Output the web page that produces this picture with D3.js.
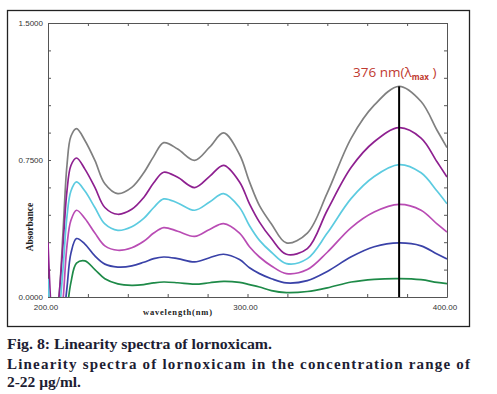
<!DOCTYPE html>
<html>
<head>
<meta charset="utf-8">
<script src="https://cdn.jsdelivr.net/npm/d3@7"></script>
<style>
  body { margin: 0; background: #fff; }
  svg { display: block; }
</style>
</head>
<body>
<div id="chart"></div>
<script>
// wavelength grid (nm) shared by all spectra
const wavelengths = [200, 203, 205.5, 207.5, 209.5, 211.5, 214.3, 218.5, 223.5, 228.5, 235, 242, 248, 253, 258, 265, 273.5, 281, 288, 296, 301, 306, 312, 319.5, 330, 340, 352, 363.5, 376, 387, 395, 400];

// absorbance, highest concentration first
const grey   = [-0.4, -0.2, 0.0, 0.35, 0.72, 0.88, 0.922, 0.857, 0.748, 0.62, 0.566, 0.60, 0.68, 0.77, 0.845, 0.81, 0.748, 0.82, 0.898, 0.78, 0.63, 0.50, 0.40, 0.296, 0.35, 0.57, 0.87, 1.05, 1.153, 1.07, 0.913, 0.818];
const purple = [0.30, -0.25, 0.0, 0.28, 0.58, 0.72, 0.761, 0.70, 0.60, 0.49, 0.453, 0.48, 0.545, 0.625, 0.683, 0.655, 0.599, 0.66, 0.721, 0.63, 0.51, 0.41, 0.32, 0.234, 0.265, 0.475, 0.71, 0.85, 0.927, 0.87, 0.74, 0.657];
const cyan   = [0.10, -0.3, -0.1, 0.15, 0.44, 0.58, 0.630, 0.58, 0.49, 0.40, 0.365, 0.385, 0.43, 0.49, 0.537, 0.515, 0.475, 0.52, 0.566, 0.49, 0.39, 0.31, 0.245, 0.183, 0.21, 0.35, 0.54, 0.66, 0.725, 0.68, 0.58, 0.51];
const pink   = [-0.2, -0.35, -0.2, -0.02, 0.28, 0.42, 0.475, 0.43, 0.35, 0.28, 0.256, 0.27, 0.305, 0.35, 0.380, 0.36, 0.332, 0.37, 0.402, 0.35, 0.275, 0.219, 0.17, 0.128, 0.15, 0.245, 0.38, 0.465, 0.507, 0.475, 0.40, 0.356];
const blue   = [-0.3, -0.4, -0.3, -0.15, 0.05, 0.24, 0.32, 0.29, 0.225, 0.18, 0.164, 0.17, 0.19, 0.21, 0.219, 0.21, 0.192, 0.215, 0.234, 0.205, 0.16, 0.128, 0.10, 0.077, 0.09, 0.14, 0.22, 0.275, 0.296, 0.28, 0.235, 0.208];
const green  = [-0.4, -0.45, -0.4, -0.3, -0.08, 0.08, 0.185, 0.198, 0.15, 0.10, 0.072, 0.064, 0.068, 0.077, 0.082, 0.078, 0.070, 0.078, 0.086, 0.08, 0.068, 0.055, 0.035, 0.024, 0.03, 0.05, 0.082, 0.097, 0.101, 0.095, 0.08, 0.073];

const seriesColors = ["#808080", "#8e2090", "#5ccbe0", "#b94cb4", "#3a42a8", "#1e8a48"];
const yTickLabels = ["1.5000", "0.7500", "0.0000"];
const xTickLabels = ["200.00", "300.00", "400.00"];
const lambdaMax = 376;

const W = 497, H = 394;
const margin = { left: 48, top: 23, right: 50, bottom: 97 };
const innerW = W - margin.left - margin.right;
const innerH = H - margin.top - margin.bottom;

const svg = d3.select("#chart").append("svg")
  .attr("width", W)
  .attr("height", H);

// outer frame
svg.append("rect")
  .attr("x", 7.5).attr("y", 10.5)
  .attr("width", 462).attr("height", 316)
  .attr("fill", "none")
  .attr("stroke", "#222")
  .attr("stroke-width", 1.3);

const x = d3.scaleLinear().domain([200, 400]).range([margin.left, margin.left + innerW]);
const y = d3.scaleLinear().domain([0, 1.5]).range([margin.top + innerH, margin.top]);

svg.append("defs").append("clipPath").attr("id", "plot-clip")
  .append("rect")
  .attr("x", margin.left).attr("y", margin.top)
  .attr("width", innerW).attr("height", innerH);

// axes, ticks pointing inward
const yVals = d3.range(0, 1.5001, 0.15);
const xVals = d3.range(200, 400.01, 20);
const axisStyle = g => {
  g.select(".domain").attr("stroke", "#555");
  g.selectAll(".tick line").attr("stroke", "#555");
  g.selectAll(".tick text").remove();
};
svg.append("g").attr("transform", `translate(${margin.left},0)`)
  .call(d3.axisLeft(y).tickValues(yVals).tickSizeInner(-3).tickSizeOuter(0)).call(axisStyle);
svg.append("g").attr("transform", `translate(${margin.left + innerW},0)`)
  .call(d3.axisRight(y).tickValues(yVals).tickSizeInner(-3).tickSizeOuter(0)).call(axisStyle);
svg.append("g").attr("transform", `translate(0,${margin.top})`)
  .call(d3.axisTop(x).tickValues(xVals).tickSizeInner(-3).tickSizeOuter(0)).call(axisStyle);
svg.append("g").attr("transform", `translate(0,${margin.top + innerH})`)
  .call(d3.axisBottom(x).tickValues(xVals).tickSizeInner(-3).tickSizeOuter(0)).call(axisStyle);

// tick labels
svg.selectAll(".ylab").data(yTickLabels).join("text")
  .attr("x", 43)
  .attr("y", d => y(+d) + 3)
  .attr("text-anchor", "end")
  .attr("font-family", "Liberation Sans, Arial, sans-serif")
  .attr("font-size", 8)
  .attr("fill", "#333")
  .text(d => d);
svg.selectAll(".xlab").data(xTickLabels).join("text")
  .attr("x", d => x(+d) - 2)
  .attr("y", 310)
  .attr("text-anchor", "middle")
  .attr("font-family", "Liberation Sans, Arial, sans-serif")
  .attr("font-size", 8)
  .attr("fill", "#333")
  .text(d => d);

svg.append("text")
  .attr("x", 143).attr("y", 315)
  .attr("textLength", 69).attr("lengthAdjust", "spacing")
  .attr("font-family", "Liberation Serif, Times New Roman, serif")
  .attr("font-weight", "bold")
  .attr("font-size", 8.5)
  .attr("fill", "#222")
  .text("wavelength(nm)");
svg.append("text")
  .attr("transform", "translate(33,227) rotate(-90)")
  .attr("text-anchor", "middle")
  .attr("font-family", "Liberation Serif, Times New Roman, serif")
  .attr("font-weight", "bold")
  .attr("font-size", 9.5)
  .attr("fill", "#222")
  .text("Absorbance");

// spectra
const series = [grey, purple, cyan, pink, blue, green];
const line = d3.line()
  .x((d, i) => x(wavelengths[i]))
  .y(d => y(d))
  .curve(d3.curveCatmullRom.alpha(0.5));

svg.append("g").attr("clip-path", "url(#plot-clip)")
  .selectAll("path").data(series).join("path")
  .attr("fill", "none")
  .attr("stroke", (d, i) => seriesColors[i])
  .attr("stroke-width", 1.7)
  .attr("d", line);

// lambda max marker
svg.append("line")
  .attr("x1", x(lambdaMax)).attr("x2", x(lambdaMax))
  .attr("y1", y(d3.max(grey))).attr("y2", y(0))
  .attr("stroke", "#000")
  .attr("stroke-width", 2);

const ann = svg.append("text")
  .attr("x", 353).attr("y", 77)
  .attr("font-family", "Open Sans, Liberation Sans, sans-serif")
  .attr("font-size", 13.5)
  .attr("fill", "#bf3a30");
ann.append("tspan").text("376 nm(λ");
ann.append("tspan").attr("font-size", 8).attr("font-weight", "bold").attr("dy", 3).text("max");
ann.append("tspan").attr("dy", -3).text(" )");

// caption
const cap = svg.append("g")
  .attr("font-family", "Liberation Serif, Times New Roman, serif")
  .attr("font-weight", "bold")
  .attr("font-size", 15)
  .attr("fill", "#1d1d33");
cap.append("text").attr("x", 7).attr("y", 349)
  .attr("textLength", 265).attr("lengthAdjust", "spacingAndGlyphs")
  .text("Fig. 8: Linearity spectra of lornoxicam.");
cap.append("text").attr("x", 7).attr("y", 369)
  .attr("textLength", 463).attr("lengthAdjust", "spacing")
  .text("Linearity spectra of lornoxicam in the concentration range of");
cap.append("text").attr("x", 7).attr("y", 387)
  .attr("textLength", 74).attr("lengthAdjust", "spacingAndGlyphs")
  .text("2-22 μg/ml.");
</script>
</body>
</html>
